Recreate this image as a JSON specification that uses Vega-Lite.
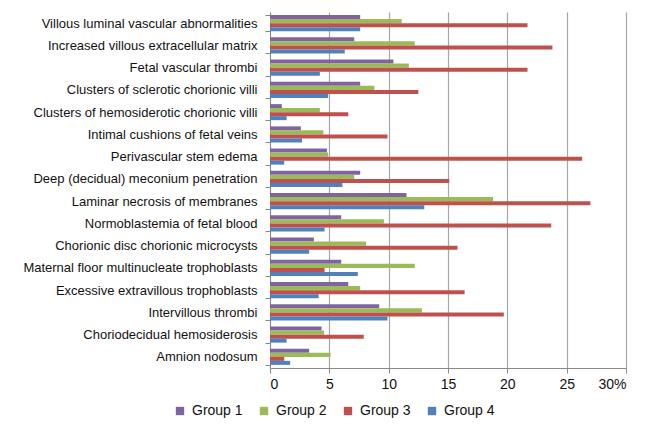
{
  "$schema": "https://vega.github.io/schema/vega-lite/v6.json",
  "width": 356,
  "height": 356,
  "autosize": {"type": "none"},
  "padding": {"left": 270, "top": 12, "right": 31, "bottom": 57},
  "background": "white",
  "config": {
    "font": "Liberation Sans",
    "view": {"stroke": null}
  },
  "data": {
    "values": [
      {"finding": "Villous luminal vascular abnormalities", "group": "Group 1", "pct": 7.6},
      {"finding": "Villous luminal vascular abnormalities", "group": "Group 2", "pct": 11.1},
      {"finding": "Villous luminal vascular abnormalities", "group": "Group 3", "pct": 21.7},
      {"finding": "Villous luminal vascular abnormalities", "group": "Group 4", "pct": 7.6},
      {"finding": "Increased villous extracellular matrix", "group": "Group 1", "pct": 7.1},
      {"finding": "Increased villous extracellular matrix", "group": "Group 2", "pct": 12.2},
      {"finding": "Increased villous extracellular matrix", "group": "Group 3", "pct": 23.8},
      {"finding": "Increased villous extracellular matrix", "group": "Group 4", "pct": 6.3},
      {"finding": "Fetal vascular thrombi", "group": "Group 1", "pct": 10.4},
      {"finding": "Fetal vascular thrombi", "group": "Group 2", "pct": 11.7},
      {"finding": "Fetal vascular thrombi", "group": "Group 3", "pct": 21.7},
      {"finding": "Fetal vascular thrombi", "group": "Group 4", "pct": 4.2},
      {"finding": "Clusters of sclerotic chorionic villi", "group": "Group 1", "pct": 7.6},
      {"finding": "Clusters of sclerotic chorionic villi", "group": "Group 2", "pct": 8.8},
      {"finding": "Clusters of sclerotic chorionic villi", "group": "Group 3", "pct": 12.5},
      {"finding": "Clusters of sclerotic chorionic villi", "group": "Group 4", "pct": 4.9},
      {"finding": "Clusters of hemosiderotic chorionic villi", "group": "Group 1", "pct": 1.0},
      {"finding": "Clusters of hemosiderotic chorionic villi", "group": "Group 2", "pct": 4.2},
      {"finding": "Clusters of hemosiderotic chorionic villi", "group": "Group 3", "pct": 6.6},
      {"finding": "Clusters of hemosiderotic chorionic villi", "group": "Group 4", "pct": 1.4},
      {"finding": "Intimal cushions of fetal veins", "group": "Group 1", "pct": 2.6},
      {"finding": "Intimal cushions of fetal veins", "group": "Group 2", "pct": 4.5},
      {"finding": "Intimal cushions of fetal veins", "group": "Group 3", "pct": 9.9},
      {"finding": "Intimal cushions of fetal veins", "group": "Group 4", "pct": 2.7},
      {"finding": "Perivascular stem edema", "group": "Group 1", "pct": 4.8},
      {"finding": "Perivascular stem edema", "group": "Group 2", "pct": 4.9},
      {"finding": "Perivascular stem edema", "group": "Group 3", "pct": 26.3},
      {"finding": "Perivascular stem edema", "group": "Group 4", "pct": 1.2},
      {"finding": "Deep (decidual) meconium penetration", "group": "Group 1", "pct": 7.6},
      {"finding": "Deep (decidual) meconium penetration", "group": "Group 2", "pct": 7.1},
      {"finding": "Deep (decidual) meconium penetration", "group": "Group 3", "pct": 15.1},
      {"finding": "Deep (decidual) meconium penetration", "group": "Group 4", "pct": 6.1},
      {"finding": "Laminar necrosis of membranes", "group": "Group 1", "pct": 11.5},
      {"finding": "Laminar necrosis of membranes", "group": "Group 2", "pct": 18.8},
      {"finding": "Laminar necrosis of membranes", "group": "Group 3", "pct": 27.0},
      {"finding": "Laminar necrosis of membranes", "group": "Group 4", "pct": 13.0},
      {"finding": "Normoblastemia of fetal blood", "group": "Group 1", "pct": 6.0},
      {"finding": "Normoblastemia of fetal blood", "group": "Group 2", "pct": 9.6},
      {"finding": "Normoblastemia of fetal blood", "group": "Group 3", "pct": 23.7},
      {"finding": "Normoblastemia of fetal blood", "group": "Group 4", "pct": 4.6},
      {"finding": "Chorionic disc chorionic microcysts", "group": "Group 1", "pct": 3.7},
      {"finding": "Chorionic disc chorionic microcysts", "group": "Group 2", "pct": 8.1},
      {"finding": "Chorionic disc chorionic microcysts", "group": "Group 3", "pct": 15.8},
      {"finding": "Chorionic disc chorionic microcysts", "group": "Group 4", "pct": 3.3},
      {"finding": "Maternal floor multinucleate trophoblasts", "group": "Group 1", "pct": 6.0},
      {"finding": "Maternal floor multinucleate trophoblasts", "group": "Group 2", "pct": 12.2},
      {"finding": "Maternal floor multinucleate trophoblasts", "group": "Group 3", "pct": 4.6},
      {"finding": "Maternal floor multinucleate trophoblasts", "group": "Group 4", "pct": 7.4},
      {"finding": "Excessive extravillous trophoblasts", "group": "Group 1", "pct": 6.6},
      {"finding": "Excessive extravillous trophoblasts", "group": "Group 2", "pct": 7.6},
      {"finding": "Excessive extravillous trophoblasts", "group": "Group 3", "pct": 16.4},
      {"finding": "Excessive extravillous trophoblasts", "group": "Group 4", "pct": 4.1},
      {"finding": "Intervillous thrombi", "group": "Group 1", "pct": 9.2},
      {"finding": "Intervillous thrombi", "group": "Group 2", "pct": 12.8},
      {"finding": "Intervillous thrombi", "group": "Group 3", "pct": 19.7},
      {"finding": "Intervillous thrombi", "group": "Group 4", "pct": 9.9},
      {"finding": "Choriodecidual hemosiderosis", "group": "Group 1", "pct": 4.35},
      {"finding": "Choriodecidual hemosiderosis", "group": "Group 2", "pct": 4.55},
      {"finding": "Choriodecidual hemosiderosis", "group": "Group 3", "pct": 7.9},
      {"finding": "Choriodecidual hemosiderosis", "group": "Group 4", "pct": 1.4},
      {"finding": "Amnion nodosum", "group": "Group 1", "pct": 3.3},
      {"finding": "Amnion nodosum", "group": "Group 2", "pct": 5.1},
      {"finding": "Amnion nodosum", "group": "Group 3", "pct": 1.2},
      {"finding": "Amnion nodosum", "group": "Group 4", "pct": 1.7}
    ]
  },
  "mark": {"type": "bar"},
  "encoding": {
    "y": {
      "field": "finding",
      "type": "nominal",
      "sort": null,
      "scale": {"paddingInner": 0.28, "paddingOuter": 0.14},
      "axis": {
        "title": null,
        "tickBand": "extent",
        "tickSize": 5,
        "tickColor": "#898989",
        "domainColor": "#898989",
        "labelFontSize": 13,
        "labelColor": "#111111",
        "labelPadding": 8,
        "labelLimit": 300
      }
    },
    "yOffset": {
      "field": "group",
      "type": "nominal",
      "sort": ["Group 1", "Group 2", "Group 3", "Group 4"],
      "scale": {"paddingInner": 0, "paddingOuter": 0}
    },
    "x": {
      "field": "pct",
      "type": "quantitative",
      "scale": {"domain": [0, 30], "nice": false},
      "axis": {
        "title": null,
        "values": [0, 5, 10, 15, 20, 25, 30],
        "labelExpr": "datum.value == 30 ? '30%' : datum.label",
        "grid": true,
        "gridColor": "#a6a6a6",
        "gridWidth": 1.2,
        "tickSize": 5,
        "tickColor": "#898989",
        "domainColor": "#898989",
        "labelFontSize": 14,
        "labelColor": "#111111",
        "labelPadding": 4
      }
    },
    "color": {
      "field": "group",
      "type": "nominal",
      "scale": {
        "domain": ["Group 1", "Group 2", "Group 3", "Group 4"],
        "range": ["#8064A2", "#9BBB59", "#C0504D", "#4F81BD"]
      },
      "legend": {
        "title": null,
        "orient": "none",
        "legendX": -97,
        "legendY": 392,
        "direction": "horizontal",
        "columns": 4,
        "symbolType": "square",
        "symbolSize": 70,
        "symbolStrokeWidth": 0,
        "labelFontSize": 14,
        "labelColor": "#111111",
        "labelOffset": 5,
        "columnPadding": 14
      }
    }
  }
}
